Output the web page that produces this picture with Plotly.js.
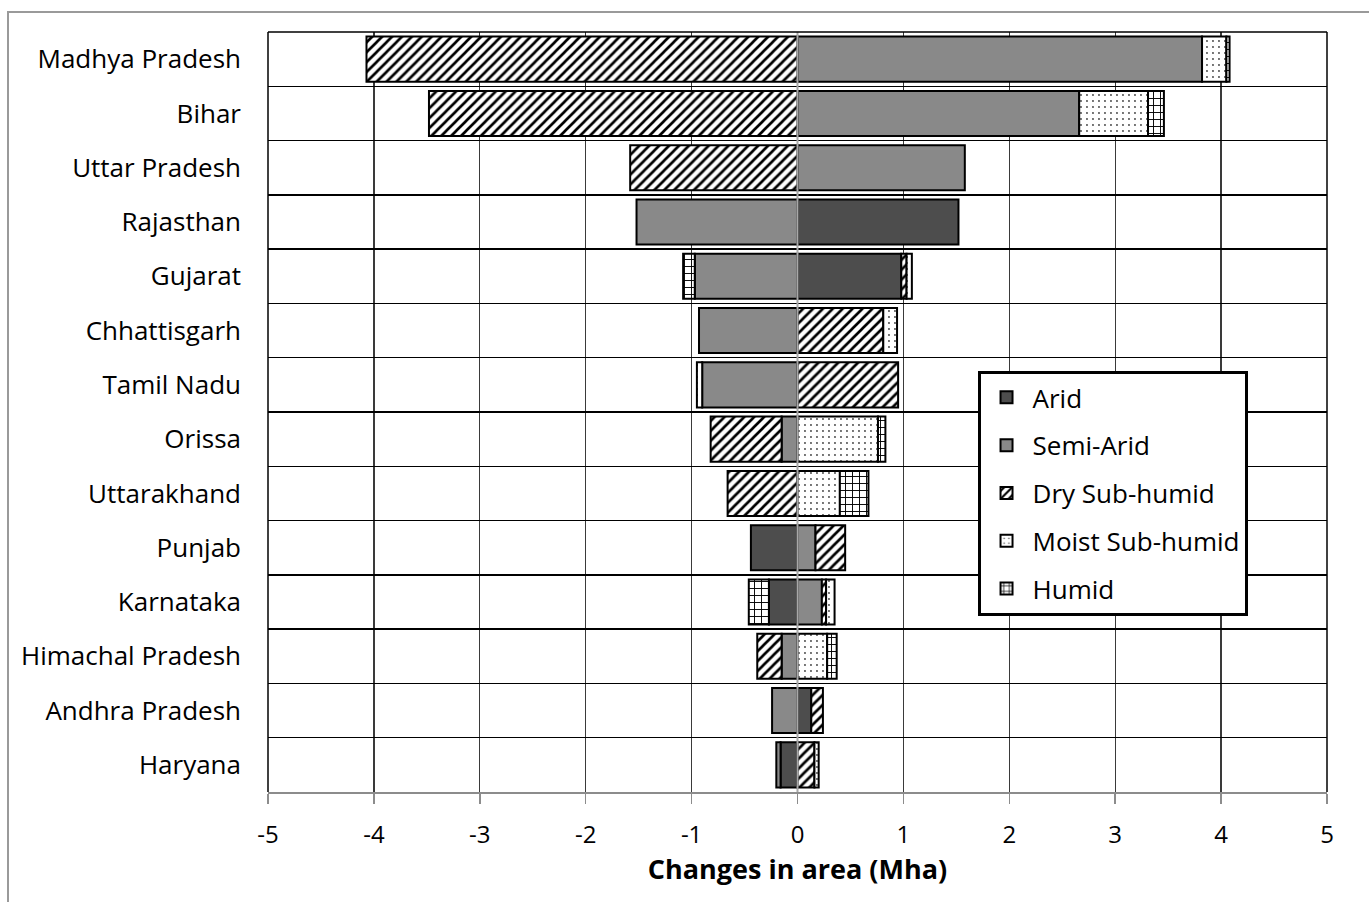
<!DOCTYPE html>
<html>
<head>
<meta charset="utf-8">
<script src="https://cdn.plot.ly/plotly-3.0.1.min.js"></script>
<style>
  html, body { margin: 0; padding: 0; background: #fff; }
  #wrap { position: relative; width: 1369px; height: 902px; overflow: hidden; }
  #frame { position: absolute; left: 7px; top: 11px; width: 1400px; height: 1000px;
           border-top: 2px solid #9a9a9a; border-left: 2px solid #9a9a9a; pointer-events: none; }
  #chart { position: absolute; left: 0; top: 0; width: 1369px; height: 902px; }
</style>
</head>
<body>
<div id="wrap">
  <div id="chart"></div>
  <div id="frame"></div>
</div>
<script>
const states = ["Madhya Pradesh", "Bihar", "Uttar Pradesh", "Rajasthan", "Gujarat", "Chhattisgarh",
  "Tamil Nadu", "Orissa", "Uttarakhand", "Punjab", "Karnataka", "Himachal Pradesh",
  "Andhra Pradesh", "Haryana"];

const arid      = [null, null, null, 1.52, 0.98, null, null, null, null, -0.44, -0.27, null, 0.13, -0.16];
const semiArid  = [3.82, 2.66, 1.58, -1.52, -0.97, -0.93, -0.90, -0.15, null, 0.17, 0.23, -0.15, -0.24, -0.04];
const drySub    = [-4.07, -3.48, -1.58, null, 0.05, 0.81, 0.95, -0.67, -0.66, 0.28, 0.04, -0.23, 0.11, 0.16];
const moistSub  = [0.23, 0.65, null, null, 0.05, 0.13, -0.05, 0.76, 0.40, null, 0.08, 0.28, null, 0.04];
const humid     = [0.03, 0.15, null, null, -0.11, null, null, 0.07, 0.27, null, -0.19, 0.09, null, null];

const xTicks = [-5, -4, -3, -2, -1, 0, 1, 2, 3, 4, 5];

const line = { color: "#000", width: 2 };
function bar(name, vals, marker) {
  return {
    type: "bar", orientation: "h", name: name, legendgroup: name,
    x: vals, y: states,
    marker: Object.assign({ line: line }, marker),
    hoverinfo: "x+y+name"
  };
}

const traces = [
  bar("Arid", arid, { color: "#4d4d4d" }),
  bar("Semi-Arid", semiArid, { color: "#898989" }),
  bar("Dry Sub-humid", drySub, { color: "#ffffff",
      pattern: { shape: "/", fgcolor: "#000", bgcolor: "#fff", size: 7, solidity: 0.38, fillmode: "replace" } }),
  bar("Moist Sub-humid", moistSub, { color: "#ffffff",
      pattern: { shape: ".", fgcolor: "#444", bgcolor: "#fff", size: 6, solidity: 0.08, fillmode: "replace" } }),
  bar("Humid", humid, { color: "#ffffff",
      pattern: { shape: "+", fgcolor: "#000", bgcolor: "#fff", size: 7, solidity: 0.25, fillmode: "replace" } })
];

const font = "'Open Sans', 'Liberation Sans', sans-serif";

const layout = {
  width: 1369, height: 902,
  margin: { l: 268, r: 42, t: 32, b: 110 },
  paper_bgcolor: "rgba(0,0,0,0)",
  plot_bgcolor: "#fff",
  barmode: "relative",
  bargap: 0.17,
  font: { family: font, size: 26, color: "#000" },
  showlegend: true,
  legend: {
    x: 0.670, xanchor: "left", y: 0.554, yanchor: "top",
    bgcolor: "#fff", bordercolor: "#000", borderwidth: 3,
    font: { family: font, size: 26, color: "#000" },
    itemwidth: 42,
    traceorder: "grouped", tracegroupgap: 11
  },
  xaxis: {
    range: [-5, 5],
    tickvals: xTicks, ticktext: xTicks.map(String),
    showgrid: true, gridcolor: "#3a3a3a", gridwidth: 1.3,
    zeroline: false,
    showline: true, linecolor: "#8c8c8c", linewidth: 2,
    ticks: "outside", ticklen: 10, tickcolor: "#8c8c8c", tickwidth: 1.5,
    ticklabelstandoff: 10,
    tickfont: { family: font, size: 24, color: "#000" },
    title: { text: "<b>Changes in area (Mha)</b>", font: { family: font, size: 27, color: "#000" }, standoff: 0 },
    fixedrange: true
  },
  yaxis: {
    type: "category",
    categoryorder: "array", categoryarray: states,
    autorange: "reversed",
    tickson: "boundaries",
    showgrid: true, gridcolor: "#000", gridwidth: 1.3,
    zeroline: false,
    showline: false,
    ticks: "",
    ticklabelstandoff: 26,
    tickfont: { family: font, size: 26, color: "#000" },
    fixedrange: true
  },
  shapes: [
    { type: "line", xref: "x", yref: "paper", x0: 0, x1: 0, y0: 0, y1: 1,
      line: { color: "#a8a8a8", width: 2 }, layer: "above" },
    { type: "line", xref: "paper", yref: "paper", x0: 0, x1: 1, y0: 1, y1: 1,
      line: { color: "#000", width: 1.5 }, layer: "above" },
    { type: "line", xref: "paper", yref: "paper", x0: 0, x1: 0, y0: 0, y1: 1,
      line: { color: "#000", width: 1.5 }, layer: "above" },
    { type: "line", xref: "paper", yref: "paper", x0: 1, x1: 1, y0: 0, y1: 1,
      line: { color: "#000", width: 1.5 }, layer: "above" }
  ]
};

Plotly.newPlot("chart", traces, layout, { displayModeBar: false, staticPlot: true });
</script>
</body>
</html>
